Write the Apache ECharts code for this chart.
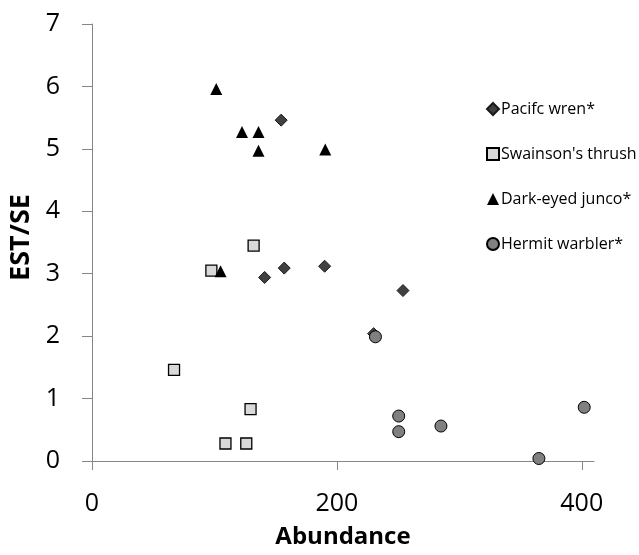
<!DOCTYPE html>
<html>
<head>
<meta charset="utf-8">
<script src="https://cdn.jsdelivr.net/npm/echarts@6/dist/echarts.min.js"></script>
<style>html,body{margin:0;padding:0;background:#fff}#c{width:639px;height:555px}</style>
</head>
<body>
<div id="c"></div>
<script>
const seriesNames = ["Pacifc wren*", "Swainson's thrush", "Dark-eyed junco*", "Hermit warbler*"];
const wren = [[154.5,5.46],[141,2.94],[157,3.09],[190,3.12],[254,2.73],[230,2.04]];
const thrush = [[97.5,3.05],[132,3.45],[67,1.46],[129.5,0.83],[109,0.28],[126,0.28]];
const junco = [[101.5,5.96],[122.5,5.27],[136,5.27],[136,4.97],[190.5,4.99],[105,3.04]];
const warbler = [[231.5,1.99],[250.5,0.72],[250.5,0.47],[285,0.56],[402,0.86],[365,0.04]];
const xTicks = [0, 200, 400];
const yTicks = [0,1,2,3,4,5,6,7];

const font = "'Open Sans', sans-serif";
const axisGray = '#868686';
const chart = echarts.init(document.getElementById('c'), null, {renderer:'canvas'});
chart.setOption({
  animation: false,
  backgroundColor: '#fff',
  grid: {left: 92, top: 24, right: 45, bottom: 94, containLabel: false, outerBoundsMode: 'none'},
  legend: {
    orient: 'vertical', left: 481, top: 94, itemGap: 25,
    itemWidth: 12, itemHeight: 12,
    textStyle: {fontFamily: font, fontSize: 16, color: '#000', lineHeight: 20, padding: [0,0,0,-3]},
    data: seriesNames
  },
  xAxis: {
    type: 'value', min: 0, max: 410,
    name: 'Abundance', nameLocation: 'middle', nameGap: 64,
    nameTextStyle: {fontFamily: font, fontSize: 24, fontWeight: 'bold', color: '#000'},
    axisLine: {show: true, onZero: false, lineStyle: {color: axisGray, width: 1}},
    axisTick: {show: true, inside: false, length: 9, customValues: xTicks, lineStyle: {color: axisGray}},
    axisLabel: {customValues: xTicks, margin: 30, fontFamily: font, fontSize: 25, color: '#000'},
    splitLine: {show: false}
  },
  yAxis: {
    type: 'value', min: 0, max: 7, interval: 1,
    name: 'EST/SE', nameLocation: 'middle', nameGap: 56, nameRotate: 90,
    nameTextStyle: {fontFamily: font, fontSize: 27, fontWeight: 'bold', color: '#000', padding: [0,0,0,10]},
    axisLine: {show: true, lineStyle: {color: axisGray, width: 1}},
    axisTick: {show: true, inside: false, length: 10, lineStyle: {color: axisGray}},
    axisLabel: {margin: 32, fontFamily: font, fontSize: 25, color: '#000'},
    splitLine: {show: false}
  },
  series: [
    {name: seriesNames[0], type: 'scatter', data: wren, symbol: 'diamond', symbolSize: 12,
     itemStyle: {color: '#404040', borderColor: '#1a1a1a', borderWidth: 1, opacity: 1}},
    {name: seriesNames[1], type: 'scatter', data: thrush, symbol: 'rect', symbolSize: 11,
     itemStyle: {color: '#d9d9d9', borderColor: '#000', borderWidth: 1.3, opacity: 1}},
    {name: seriesNames[2], type: 'scatter', data: junco, symbol: 'triangle', symbolSize: 12,
     itemStyle: {color: '#000', borderColor: '#000', borderWidth: 0, opacity: 1}},
    {name: seriesNames[3], type: 'scatter', data: warbler, symbol: 'circle', symbolSize: 12,
     itemStyle: {color: '#808080', borderColor: '#000', borderWidth: 1, opacity: 1}}
  ]
});
</script>
</body>
</html>
